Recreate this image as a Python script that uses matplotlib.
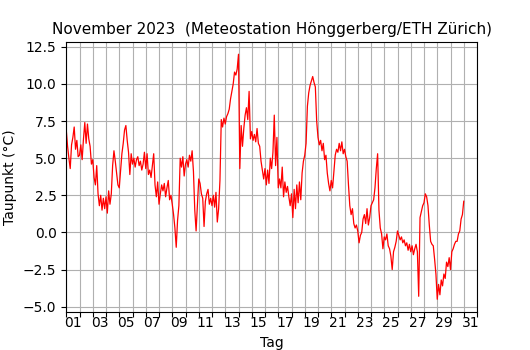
import numpy as np
import matplotlib
matplotlib.use("Agg")
import matplotlib.pyplot as plt

# Dew point (°C), sampled every 0.1 day from Nov 1 00:00 to Nov 30 24:00
step = 0.1
taupunkt = [
    6.9, 5.8, 5.0, 4.3, 5.9, 6.4, 7.1, 5.6, 6.2, 5.1,      # day 0
    5.2, 5.9, 4.9, 6.3, 7.4, 6.0, 7.3, 6.3, 5.8, 4.6,      # day 1
    4.9, 3.7, 3.2, 4.5, 2.6, 1.8, 2.5, 1.5, 2.3, 1.6,      # day 2
    2.4, 1.3, 2.8, 1.9, 2.6, 4.5, 5.5, 4.8, 4.0, 3.2,      # day 3
    3.0, 4.2, 5.3, 6.0, 6.9, 7.2, 6.2, 5.4, 3.9, 5.3,      # day 4
    4.6, 5.0, 4.4, 4.9, 5.1, 4.5, 4.8, 4.2, 4.6, 5.4,      # day 5
    4.3, 5.3, 3.9, 4.2, 3.7, 4.5, 5.3, 3.2, 2.4, 3.4,      # day 6
    1.9, 2.6, 3.2, 2.8, 3.3, 2.4, 3.0, 3.5, 2.2, 2.5,      # day 7
    1.9, 1.2, 0.3, -1.0, 0.8, 1.8, 5.0, 4.4, 5.1, 3.8,     # day 8
    4.6, 4.9, 4.4, 5.2, 4.8, 5.5, 4.1, 1.5, 0.1, 1.8,      # day 9
    3.6, 3.3, 2.6, 2.3, 0.4, 2.1, 2.6, 2.9, 1.9, 2.3,      # day 10
    1.8, 2.5, 1.7, 2.7, 0.7, 1.6, 3.5, 7.6, 7.1, 7.7,      # day 11
    7.3, 7.8, 8.0, 8.3, 9.0, 9.5, 10.0, 10.8, 10.6, 11.0,  # day 12
    12.0, 4.3, 7.2, 5.8, 7.0, 7.9, 8.4, 7.6, 9.5, 6.3,     # day 13
    6.8, 6.2, 6.6, 6.1, 7.0, 6.0, 5.8, 4.8, 4.2, 3.6,      # day 14
    4.3, 3.2, 4.2, 3.3, 5.0, 4.3, 5.4, 7.9, 4.5, 6.4,      # day 15
    3.0, 3.6, 3.0, 4.4, 2.4, 3.4, 2.7, 3.1, 2.4, 1.8,      # day 16
    2.6, 1.0, 2.9, 1.6, 3.2, 2.0, 3.4, 2.2, 4.0, 4.8,      # day 17
    5.2, 6.0, 8.5, 9.4, 9.9, 10.2, 10.5, 10.1, 9.8, 7.5,   # day 18
    6.4, 5.9, 6.2, 5.5, 6.0, 4.9, 5.2, 4.0, 3.3, 2.8,      # day 19
    3.5, 3.0, 4.1, 5.2, 5.6, 5.4, 6.0, 5.5, 6.1, 5.3,      # day 20
    5.6, 5.1, 4.8, 3.2, 1.8, 1.2, 1.6, 0.6, 0.3, 0.5,      # day 21
    0.1, -0.7, -0.2, 0.0, 0.9, 1.2, 0.6, 1.6, 0.5, 1.0,    # day 22
    1.8, 2.0, 2.2, 3.0, 4.3, 5.3, 1.5, 0.3, -0.1, -1.1,    # day 23
    -0.3, -0.5, -0.1, -0.9, -1.1, -1.6, -2.5, -1.3, -1.0, -0.6,  # day 24
    0.1, -0.2, -0.5, -0.3, -0.7, -0.5, -0.9, -0.7, -1.2, -0.8,   # day 25
    -1.3, -0.9, -1.5, -1.1, -0.8, -1.3, -4.3, 1.0, 1.4, 1.8,     # day 26
    2.0, 2.6, 2.4, 1.8, 0.5, -0.6, -0.8, -0.9, -1.8, -2.8,       # day 27
    -4.5, -3.5, -4.2, -3.2, -3.6, -2.8, -3.1, -2.0, -2.3, -1.7,  # day 28
    -2.5, -1.3, -1.1, -0.8, -0.6, -0.6, -0.1, 0.1, 0.9, 1.2,     # day 29
    2.1,
]
tage = np.arange(len(taupunkt)) * step

day_labels = ["01", "03", "05", "07", "09", "11", "13", "15",
              "17", "19", "21", "23", "25", "27", "29", "31"]
n_days = 31

fig, ax = plt.subplots(figsize=(5.3, 3.5), dpi=100)
ax.plot(tage, taupunkt, color="red", linewidth=0.9)

ax.set_xlim(0, n_days)
ax.set_xticks(np.arange(0, n_days + 1))
ax.set_xticklabels([])
ax.set_xticks(np.arange(len(day_labels)) * 2 + 0.5, minor=True)
ax.set_xticklabels(day_labels, minor=True)
ax.tick_params(axis="x", which="minor", length=0)
ax.set_yticks([-5.0, -2.5, 0.0, 2.5, 5.0, 7.5, 10.0, 12.5])
ax.grid(True, which="major", color="#b0b0b0", linewidth=0.8)
ax.set_axisbelow(True)

ax.set_title("November 2023  (Meteostation Hönggerberg/ETH Zürich)", fontsize=11)
ax.set_xlabel("Tag")
ax.set_ylabel("Taupunkt (°C)")

fig.savefig("out.png", dpi=100)
